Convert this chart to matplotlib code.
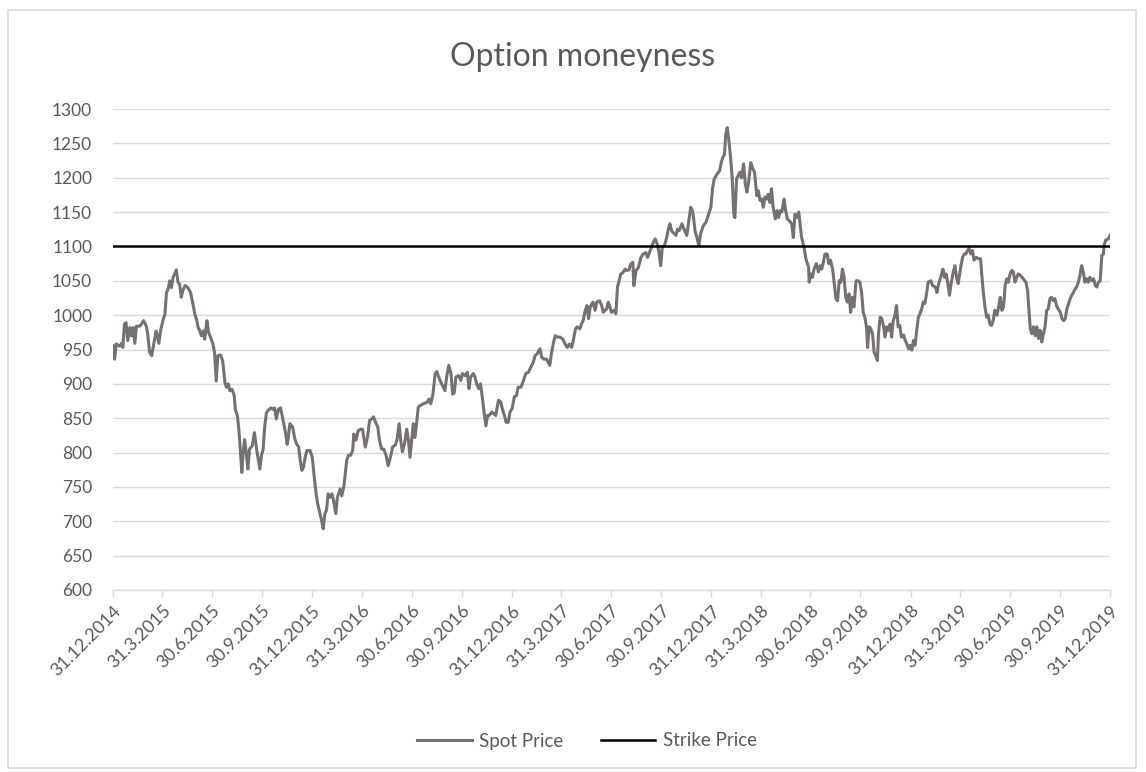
import numpy as np
import pandas as pd
import matplotlib
matplotlib.use('Agg')
import matplotlib.pyplot as plt
import matplotlib.transforms as mtransforms
from matplotlib.patches import Rectangle

plt.rcParams['font.family'] = ['Lato', 'DejaVu Sans']

# days after 31.12.2014 and spot price
day_offsets = [
    0, 3, 6, 12, 16, 18, 21, 24, 27, 31, 34, 37, 40, 43, 49, 52, 56, 61, 64, 67,
    71, 75, 79, 84, 87, 92, 95, 98, 101, 104, 107, 110, 113, 116, 119, 122, 125, 128, 132, 137,
    142, 147, 150, 153, 156, 159, 162, 165, 168, 172, 175, 179, 183, 186, 189, 192, 197, 201, 205, 208,
    211, 214, 218, 222, 224, 228, 231, 233, 236, 238, 241, 244, 247, 250, 255, 259, 263, 266, 269, 272,
    275, 278, 281, 284, 289, 293, 296, 299, 303, 307, 311, 316, 319,
    321, 324, 329, 333, 336, 340, 343, 346, 349, 352, 355, 361, 365, 368, 372, 375, 379, 382, 385, 388,
    391, 394, 398, 401, 404, 408, 411, 416, 419, 423, 428, 431, 435, 439, 441, 445, 449, 454, 457, 462,
    466, 470, 474, 477, 481, 485, 488, 492, 496, 500, 504, 509, 512, 517, 520, 524, 527, 530, 534, 538,
    541, 544, 547, 550, 553, 556, 559, 562, 568, 575, 579, 582, 586, 590, 593, 598, 602, 608, 611, 615,
    619, 622, 625, 628, 633,
    637, 640, 645, 649, 652, 655, 660, 663, 666, 670, 673, 676, 680, 683, 686, 689, 694, 698, 701, 706,
    710, 714, 717, 720, 724, 727, 731, 735, 739, 742, 747, 752, 756, 761, 765, 770, 773, 777, 782, 785,
    789, 794, 800, 803, 807, 810, 814, 819, 824, 828, 832, 836, 840, 843, 847, 850, 855, 858, 861, 865,
    868, 871, 874, 879, 883, 886, 891, 895, 898, 901, 904, 907, 910, 913, 918, 921, 924, 927, 930, 933,
    938, 941, 945,
    948, 952, 954, 958, 962, 967, 971, 976, 979, 984, 988, 993, 997, 1000, 1003, 1006, 1010, 1014, 1017, 1020,
    1023, 1026, 1031, 1034, 1037, 1042, 1046, 1051, 1054, 1058, 1062, 1066, 1070, 1073, 1076, 1081, 1086, 1090, 1095, 1098,
    1101, 1106, 1111, 1114, 1117, 1120, 1122, 1125, 1128, 1131, 1134, 1137, 1139, 1142, 1145, 1148, 1151, 1155, 1158, 1161,
    1164, 1168, 1172, 1175, 1179, 1182, 1185, 1188, 1191, 1194, 1197, 1200, 1203, 1206, 1209, 1213, 1216, 1219, 1222, 1225,
    1229, 1232, 1235, 1239, 1243, 1246, 1249, 1252, 1256,
    1261, 1266, 1269, 1274, 1275, 1278, 1281, 1284, 1288, 1292, 1295, 1298, 1301, 1304, 1308, 1311, 1314, 1318, 1321, 1324,
    1327, 1330, 1333, 1336, 1339, 1342, 1345, 1348, 1351, 1354, 1357, 1361, 1365, 1368, 1371, 1374, 1377, 1380, 1382, 1385,
    1388, 1391, 1394, 1397, 1400, 1402, 1405, 1408, 1411, 1414, 1417, 1420, 1423, 1426, 1429, 1432, 1435, 1438, 1441, 1444,
    1448, 1451, 1454, 1457, 1460, 1463, 1466, 1469, 1472, 1475, 1478, 1481, 1484, 1487, 1490, 1493, 1498, 1501, 1506, 1509,
    1513, 1517, 1520, 1523, 1526, 1529, 1532, 1535, 1539, 1542, 1545, 1548,
    1553, 1556, 1559, 1562, 1565, 1568, 1571, 1574, 1577, 1581, 1585, 1589, 1591, 1594, 1597, 1600, 1603, 1606, 1609, 1612,
    1615, 1619, 1622, 1625, 1628, 1631, 1634, 1637, 1640, 1643, 1646, 1649, 1652, 1655, 1658, 1662, 1667, 1672, 1675, 1678,
    1680, 1683, 1686, 1689, 1692, 1695, 1698, 1701, 1704, 1707, 1710, 1713, 1716, 1719, 1722, 1725, 1728, 1731, 1735, 1738,
    1741, 1744, 1747, 1750, 1753, 1756, 1759, 1762, 1765, 1768, 1771, 1774, 1777, 1780, 1783, 1786, 1789, 1793, 1796, 1799,
    1802, 1805, 1808, 1811, 1814, 1815, 1818, 1823, 1826,
]

spot = [
    956, 936, 958, 955, 959, 953, 987, 989, 963, 982, 970, 982, 959, 984, 984, 987, 992, 984, 970, 946,
    941, 960, 977, 959, 977, 994, 1001, 1033, 1038, 1050, 1040, 1055, 1060, 1066, 1048, 1045, 1026, 1036, 1043, 1040,
    1033, 1014, 1001, 994, 982, 977, 970, 977, 965, 992, 975, 967, 958, 946, 904, 941, 942, 933, 902, 895,
    900, 890, 892, 883, 863, 853, 829, 805, 771, 796, 819, 800, 776, 805, 810, 829, 805, 790, 776, 796,
    805, 839, 858, 861, 865, 863, 865, 849, 863, 865, 849, 829, 812,
    822, 842, 837, 820, 813, 808, 788, 774, 779, 793, 803, 803, 793, 769, 740, 725, 711, 701, 689, 711,
    716, 740, 735, 740, 730, 711, 735, 747, 737, 752, 788, 796, 796, 803, 827, 818, 832, 834, 834, 808,
    822, 847, 849, 852, 844, 837, 818, 805, 805, 796, 781, 796, 808, 811, 818, 842, 818, 801, 813, 834,
    818, 793, 818, 842, 822, 842, 866, 868, 871, 873, 878, 871, 885, 915, 918, 907, 900, 890, 910, 927,
    915, 885, 887, 910, 912,
    905, 915, 912, 917, 893, 910, 915, 910, 900, 893, 900, 883, 856, 839, 854, 854, 859, 856, 854, 876,
    874, 861, 854, 844, 844, 859, 864, 881, 883, 895, 895, 905, 915, 917, 924, 932, 941, 944, 951, 939,
    936, 936, 927, 944, 961, 970, 968, 968, 965, 958, 953, 958, 953, 963, 980, 983, 980, 987, 992, 1007,
    1014, 995, 1012, 1019, 1007, 1019, 1021, 1014, 1004, 1007, 1009, 1019, 1012, 1004, 1007, 1002, 1041, 1050, 1060, 1061,
    1067, 1065, 1066,
    1074, 1077, 1043, 1065, 1069, 1084, 1089, 1091, 1084, 1094, 1103, 1111, 1103, 1091, 1072, 1099, 1101, 1113, 1125, 1133,
    1123, 1120, 1116, 1125, 1123, 1133, 1125, 1116, 1133, 1157, 1150, 1123, 1111, 1101, 1118, 1130, 1135, 1145, 1157, 1184,
    1198, 1205, 1210, 1222, 1230, 1234, 1261, 1273, 1254, 1230, 1200, 1147, 1142, 1198, 1203, 1208, 1200, 1220, 1191, 1179,
    1193, 1222, 1213, 1208, 1174, 1181, 1167, 1169, 1157, 1172, 1169, 1176, 1164, 1184, 1157, 1140, 1152, 1142, 1152, 1150,
    1169, 1152, 1140, 1137, 1133, 1113, 1147, 1142, 1150,
    1114, 1097, 1082, 1070, 1048, 1060, 1055, 1067, 1075, 1063, 1072, 1067, 1077, 1089, 1089, 1075, 1080, 1067, 1046, 1024,
    1021, 1050, 1048, 1067, 1055, 1026, 1019, 1031, 1004, 1026, 1012, 1050, 1050, 1048, 1033, 1004, 997, 983, 953, 983,
    980, 973, 946, 941, 934, 973, 997, 995, 985, 968, 983, 978, 987, 968, 992, 999, 1014, 983, 985, 968,
    971, 963, 958, 951, 956, 949, 963, 956, 978, 997, 1002, 1009, 1019, 1017, 1031, 1048, 1050, 1043, 1041, 1033,
    1048, 1058, 1067, 1055, 1060, 1046, 1029, 1046, 1063, 1072, 1055, 1046,
    1072, 1084, 1089, 1089, 1094, 1097, 1089, 1094, 1080, 1084, 1082, 1082, 1060, 1033, 1012, 997, 1000, 987, 985, 992,
    1007, 1000, 1012, 1026, 1007, 1012, 1043, 1053, 1048, 1060, 1065, 1063, 1048, 1055, 1060, 1058, 1053, 1048, 1036, 1002,
    980, 973, 983, 970, 983, 966, 978, 961, 973, 983, 1007, 1009, 1024, 1026, 1021, 1024, 1014, 1009, 1004, 995,
    992, 995, 1009, 1016, 1024, 1029, 1033, 1038, 1041, 1048, 1058, 1072, 1063, 1048, 1053, 1048, 1055, 1050, 1053, 1043,
    1041, 1048, 1050, 1087, 1089, 1101, 1109, 1111, 1116,
]

strike = 1100
start = pd.Timestamp('2014-12-31')
end = pd.Timestamp('2019-12-31')

dates = start + pd.to_timedelta(day_offsets, unit='D')
quarter_ends = pd.date_range(start, end, freq='QE')
tick_labels = [f'{d.day}.{d.month}.{d.year}' for d in quarter_ends]

text_col = '#595959'
grid_col = '#D9D9D9'

fig = plt.figure(figsize=(11.46, 7.72), dpi=100)
# border around the chart area
fig.patches.append(Rectangle((8 / 1146, 4 / 772), 1128 / 1146, 758 / 772,
                             transform=fig.transFigure, fill=False,
                             edgecolor='#D9D9D9', lw=1.2))

ax = fig.add_axes([113 / 1146, 1 - 590 / 772, 997 / 1146, 481 / 772])
ax.plot(dates, spot, color='#767171', lw=2.2, label='Spot Price', zorder=3)
ax.plot([start, end], [strike, strike], color='black', lw=1.8,
        label='Strike Price', zorder=4)

ax.set_xlim(start, end)
ax.set_ylim(600, 1300)
ax.set_yticks(np.arange(600, 1301, 50))
ax.set_xticks(quarter_ends)
ax.set_xticklabels(tick_labels, rotation=45, ha='right', va='top',
                   rotation_mode='anchor')
shift = mtransforms.ScaledTranslation(-4 / 100, 0, fig.dpi_scale_trans)
for lab in ax.get_xticklabels():
    lab.set_transform(lab.get_transform() + shift)

ax.grid(axis='y', color=grid_col, lw=1)
ax.set_axisbelow(True)
for s in ['top', 'right', 'left']:
    ax.spines[s].set_visible(False)
ax.spines['bottom'].set_color(grid_col)
ax.spines['bottom'].set_linewidth(1)
ax.tick_params(axis='x', colors=grid_col, length=5, width=1, labelcolor=text_col,
               labelsize=13, pad=4)
ax.tick_params(axis='y', length=0, labelcolor=text_col, labelsize=12.5, pad=15)

fig.text(583 / 1146, 1 - 57 / 772, 'Option moneyness', ha='center', va='center',
         fontsize=23, color=text_col)

fig.legend(loc='center', bbox_to_anchor=(587 / 1146, 1 - 741 / 772), ncol=2,
           frameon=False, fontsize=13.5, labelcolor=text_col, handlelength=2.9,
           columnspacing=2.0, handletextpad=0.4)

fig.savefig('out.png', dpi=100)
